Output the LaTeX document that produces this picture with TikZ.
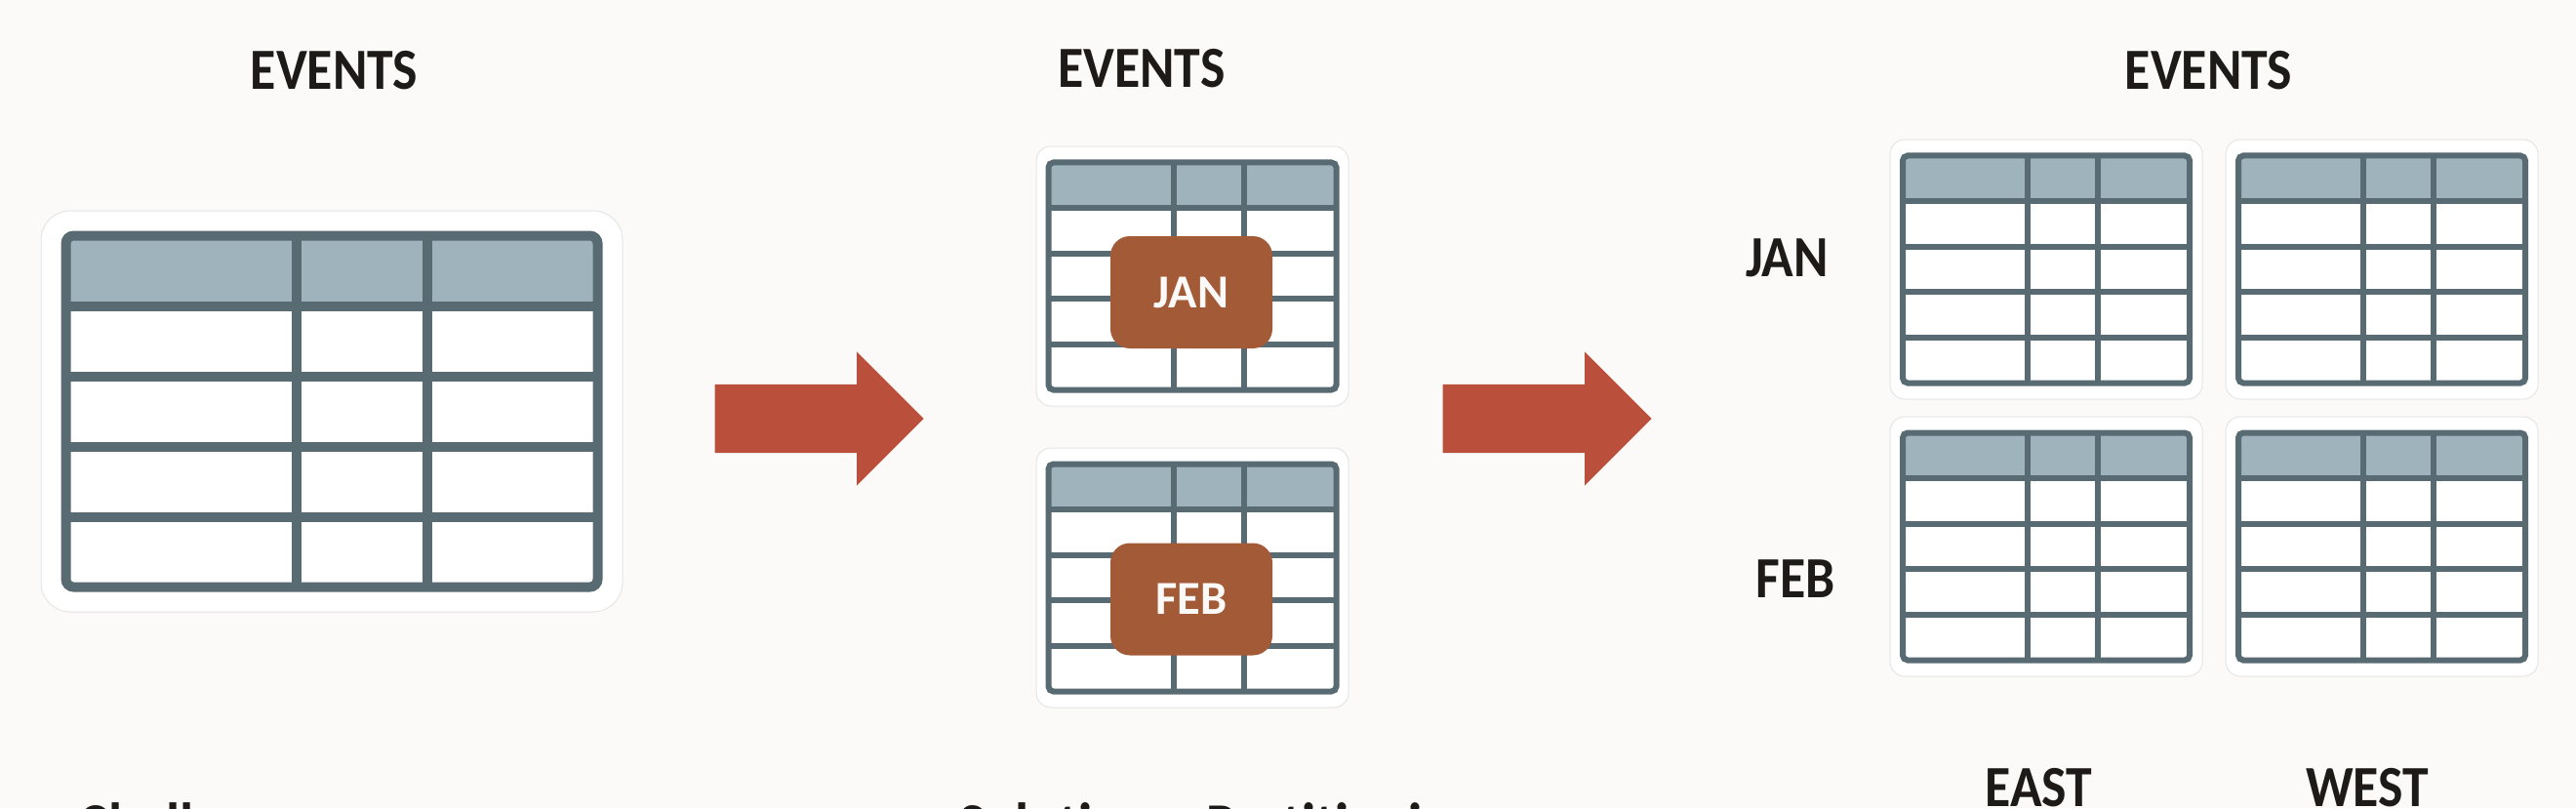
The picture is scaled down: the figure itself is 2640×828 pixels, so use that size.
\documentclass[tikz,border=0pt]{standalone}
\usepackage{fontspec}
\setmainfont[FakeStretch=0.9]{Carlito}
\newfontfamily\badgefont{Carlito}
\usetikzlibrary{positioning,shapes.arrows}

\definecolor{pagebg}{RGB}{251,250,248}
\definecolor{gridline}{RGB}{88,106,114}
\definecolor{headerfill}{RGB}{159,179,189}
\definecolor{arrowred}{RGB}{186,80,60}
\definecolor{badgebrown}{RGB}{163,90,54}
\definecolor{inkdark}{RGB}{30,26,23}

\tikzset{
    title/.style = {
        font=\bfseries\fontsize{17}{20}\selectfont,
        text=inkdark,
        inner sep=0pt,
        anchor=base,
        },
    caption/.style = {
        font=\bfseries\fontsize{18.2}{22}\selectfont,
        text=inkdark,
        inner sep=0pt,
        anchor=base west,
        },
    backing/.style = {
        fill=white,
        draw=black!10,
        line width=0.1mm,
        outer sep=0pt,
        rounded corners=1.5mm,
        minimum width=32mm,
        minimum height=26.6mm,
        },
    badge/.style = {
        fill=badgebrown,
        text=pagebg,
        rounded corners=2mm,
        minimum width=16.6mm,
        minimum height=11.5mm,
        font=\badgefont\bfseries\fontsize{13.8}{16}\selectfont,
        },
    bigarrow/.style = {
        single arrow,
        fill=arrowred,
        anchor=tail,
        inner xsep=0pt,
        inner ysep=3.45mm,
        minimum height=21.4mm,
        minimum width=13.6mm,
        single arrow head extend=3.35mm,
        single arrow head indent=0pt,
        },
    pics/evtable/.style n args = {4}{code = {
        % #1 width, #2 height, #3 line width, #4 corner
        \fill[headerfill, rounded corners=#4] (-#1/2,-#2/2) rectangle (#1/2,-#2/2+#2/5);
        \fill[white, rounded corners=#4] (-#1/2,-#2/2+#2/5) rectangle (#1/2,#2/2);
        \foreach \row in {1,...,4}
            \draw[gridline, line width=#3] (-#1/2,-#2/2+\row*#2/5) -- (#1/2,-#2/2+\row*#2/5);
        \foreach \col in {0.434,0.679}
            \draw[gridline, line width=#3] (-#1/2+\col*#1,-#2/2) -- (-#1/2+\col*#1,#2/2);
        \draw[gridline, line width=#3, rounded corners=#4] (-#1/2,-#2/2) rectangle (#1/2,#2/2);
        }},
}

\begin{document}
\begin{tikzpicture}[x=0.1mm, y=-0.1mm]
    \path[fill=pagebg, use as bounding box] (0,0) rectangle (2640,828);

    % one table
    \node[title] (evall) at (342.5,92) {EVENTS};
    \node[backing, minimum width=59.6mm, minimum height=41.1mm, rounded corners=3mm] (all) at (340,421.5) {};
    \pic at (all.center) {evtable={545}{360}{1mm}{0.8mm}};

    \node[bigarrow] (step1) at (732,429) {};

    % split by month
    \node[title] (evmonth) at (1170,90) {EVENTS};
    \node[backing] (jan) at (1222,283) {};
    \node[backing, below=4.3mm of jan] (feb) {};
    \pic at (jan.center) {evtable={295}{233}{0.6mm}{0.5mm}};
    \pic at (feb.center) {evtable={295}{233}{0.6mm}{0.5mm}};
    \node[badge] (janbadge) at (1221,299.5) {JAN};
    \node[badge] (febbadge) at (1221,614) {FEB};

    \node[bigarrow] (step2) at (1478,429) {};

    % split by month and region
    \node[title] (evregion) at (2263.5,92) {EVENTS};
    \node[backing] (janeast) at (2097,276) {};
    \node[backing, right=2.4mm of janeast] (janwest) {};
    \node[backing, below=1.8mm of janeast] (febeast) {};
    \node[backing, right=2.4mm of febeast] (febwest) {};
    \foreach \part in {janeast,janwest,febeast,febwest}
        \pic at (\part.center) {evtable={294}{233}{0.6mm}{0.5mm}};

    \node[title] (janlabel) at (1831.5,283) {JAN};
    \node[title] (feblabel) at (1840,612) {FEB};
    \node[title] (eastlabel) at (2089.5,826) {EAST};
    \node[title] (westlabel) at (2426,826) {WEST};

    \node[caption] (challenge) at (80,867) {Challenges};
    \node[caption] (solution) at (982,867) {Solution – Partitioning};
\end{tikzpicture}
\end{document}
